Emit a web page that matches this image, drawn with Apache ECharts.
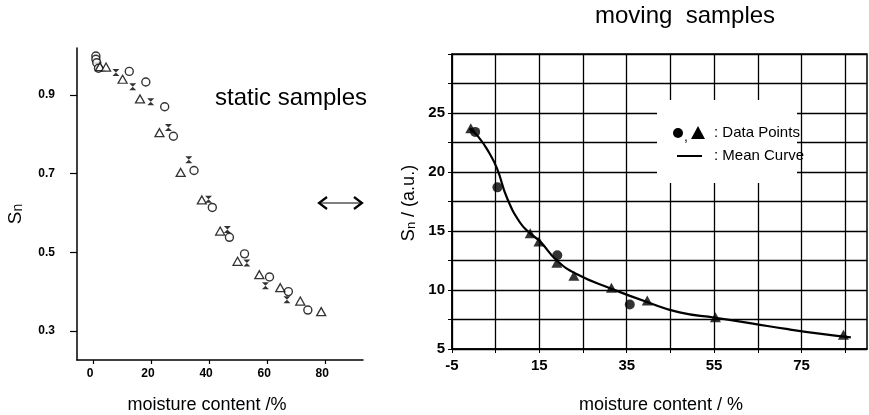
<!DOCTYPE html>
<html>
<head>
<meta charset="utf-8">
<script src="https://cdn.jsdelivr.net/npm/echarts@6/dist/echarts.min.js"></script>
<style>html,body{margin:0;padding:0;background:#fff;}#c{width:869px;height:415px;}</style>
</head>
<body>
<div id="c"></div>
<script>
// ---- Left chart: static samples ----
const staticCircles = [[1,0.999],[1,0.991],[1.3,0.982],[1.9,0.968],[12.5,0.96],[18.2,0.933],[24.7,0.87],[27.7,0.795],[34.8,0.708],[41.1,0.614],[47,0.538],[52.2,0.496],[60.8,0.437],[67.3,0.40],[74,0.353]];
const staticTriangles = [[2.4,0.972],[4.5,0.971],[10.2,0.94],[16.2,0.89],[22.9,0.804],[30.2,0.703],[37.5,0.633],[43.8,0.554],[49.8,0.477],[57.3,0.443],[64.5,0.41],[71.4,0.376],[78.6,0.349]];
const staticHourglass = [[7.9,0.957],[13.7,0.921],[19.9,0.883],[26,0.817],[33,0.735],[39.8,0.635],[46.3,0.558],[53,0.473],[59.4,0.415],[66.8,0.379]];
const leftXTicks = [0,20,40,60,80];
const leftYTicks = [0.3,0.5,0.7,0.9];

// ---- Right chart: moving samples ----
const movingCircles = [[0.3,23.4],[5.4,18.7],[19.1,12.95],[35.7,8.77]];
const movingTriangles = [[-0.7,23.7],[12.9,14.8],[14.9,14.1],[19,12.3],[22.9,11.2],[31.5,10.2],[39.7,9.1],[55.3,7.7],[84.6,6.2]];
const meanCurve = [[-1,23.7],[1,23.0],[3.4,21.7],[5.3,20.3],[7.6,17.8],[10.6,15.7],[12.9,14.8],[15.2,14.1],[19,12.5],[23.5,11.35],[31.5,10.1],[39.5,9.0],[47.1,8.1],[55.3,7.65],[63.9,7.15],[71.5,6.7],[79.1,6.3],[86.3,5.98]];
const rightXGrid = [-5,5,15,25,35,45,55,65,75,85];
const rightXLabels = [-5,15,35,55,75];
const rightYLabels = [5,10,15,20,25];

const FONT = 'Liberation Sans, Arial, sans-serif';
const chart = echarts.init(document.getElementById('c'), null, {renderer:'canvas'});

const hourglass = 'path://M0,0 L10,0 L0,10 L10,10 Z';

chart.setOption({
  backgroundColor:'#fff',
  animation:false,
  grid:[
    {left:77, top:48, width:286, height:312, show:false},
    {left:452, top:54, width:415, height:295, show:true, borderColor:'#000', borderWidth:1.5, backgroundColor:'transparent'}
  ],
  xAxis:[
    {gridIndex:0, type:'value', min:-5.5, max:93, 
     axisLine:{lineStyle:{color:'#000', width:1.5}, onZero:false},
     axisTick:{show:true, customValues:leftXTicks, length:4, inside:false, lineStyle:{color:'#000', width:1.2}},
     axisLabel:{customValues:leftXTicks, color:'#000', fontSize:12, fontWeight:'bold', fontFamily:FONT, margin:8, padding:[0,6,0,0]},
     splitLine:{show:false}},
    {gridIndex:1, type:'value', min:-5, max:90,
     axisLine:{lineStyle:{color:'#000', width:1.5}, onZero:false},
     axisTick:{show:true, customValues:rightXGrid, length:4, lineStyle:{color:'#000'}},
     axisLabel:{customValues:rightXLabels, color:'#000', fontSize:15, fontWeight:'bold', fontFamily:FONT, margin:9},
     splitLine:{show:true, lineStyle:{color:'#000', width:1.3}}}
  ],
  yAxis:[
    {gridIndex:0, type:'value', min:0.226, max:1.0195,
     axisLine:{show:true, lineStyle:{color:'#000', width:1.5}, onZero:false},
     axisTick:{show:true, customValues:leftYTicks, length:7, lineStyle:{color:'#000', width:1.2}},
     axisLabel:{customValues:leftYTicks, color:'#000', fontSize:12, fontWeight:'bold', fontFamily:FONT, margin:22, formatter:v=>v.toFixed(1)},
     splitLine:{show:false}},
    {gridIndex:1, type:'value', min:5, max:30, interval:2.5,
     axisLine:{show:true, lineStyle:{color:'#000', width:1.5}, onZero:false},
     axisTick:{show:true, length:4, lineStyle:{color:'#000'}},
     axisLabel:{color:'#000', fontSize:15, fontWeight:'bold', fontFamily:FONT, margin:7,
       formatter:v=> rightYLabels.indexOf(v) >= 0 ? String(v) : ''},
     splitLine:{show:true, lineStyle:{color:'#000', width:1.3}}}
  ],
  series:[
    {type:'scatter', xAxisIndex:0, yAxisIndex:0, data:staticCircles, symbol:'circle', symbolSize:8,
     itemStyle:{color:'#fff', borderColor:'#000', borderWidth:1.4}},
    {type:'scatter', xAxisIndex:0, yAxisIndex:0, data:staticTriangles, symbol:'triangle', symbolSize:[9,8],
     itemStyle:{color:'#fff', borderColor:'#000', borderWidth:1.3}},
    {type:'scatter', xAxisIndex:0, yAxisIndex:0, data:staticHourglass, symbol:hourglass, symbolSize:[7,7],
     itemStyle:{color:'#000'}},
    {type:'line', xAxisIndex:1, yAxisIndex:1, data:meanCurve, smooth:true, showSymbol:false, symbol:'none',
     lineStyle:{color:'#000', width:2.2}, z:3},
    {type:'scatter', xAxisIndex:1, yAxisIndex:1, data:movingCircles, symbol:'circle', symbolSize:10,
     itemStyle:{color:'#000'}, z:4},
    {type:'scatter', xAxisIndex:1, yAxisIndex:1, data:movingTriangles, symbol:'triangle', symbolSize:[11,10],
     itemStyle:{color:'#000'}, z:4}
  ],
  graphic:[
    // titles
    {type:'text', left:215, top:86, z:100, style:{text:'static samples', font:'24px Liberation Sans, Arial, sans-serif', fill:'#000'}},
    {type:'text', left:595, top:4, z:100, style:{text:'moving  samples', font:'24px Liberation Sans, Arial, sans-serif', fill:'#000'}},
    // axis names
    {type:'text', x:207, y:405, z:100, style:{text:'moisture content /%', font:'18px Liberation Sans, Arial, sans-serif', fill:'#000', align:'center', verticalAlign:'middle'}},
    {type:'text', x:661, y:405, z:100, style:{text:'moisture content / %', font:'18px Liberation Sans, Arial, sans-serif', fill:'#000', align:'center', verticalAlign:'middle'}},
    {type:'text', x:16, y:214, rotation:Math.PI/2, z:100, style:{
      text:'{s|S}{b|n}', align:'center', verticalAlign:'middle',
      rich:{s:{fontSize:19, fontFamily:FONT, fill:'#000', lineHeight:19, verticalAlign:'top'},
            b:{fontSize:14, fontFamily:FONT, fill:'#000', lineHeight:14, padding:[9,0,0,0], verticalAlign:'bottom'}}}},
    {type:'text', x:409, y:203, rotation:Math.PI/2, z:100, style:{
      text:'{s|S}{b|n}{s| / (a.u.)}', align:'center', verticalAlign:'middle',
      rich:{s:{fontSize:18, fontFamily:FONT, fill:'#000', lineHeight:18, verticalAlign:'top'},
            b:{fontSize:13, fontFamily:FONT, fill:'#000', lineHeight:13, padding:[8,0,0,0], verticalAlign:'bottom'}}}},
    // double arrow
    {type:'polyline', z:100, shape:{points:[[319,203],[362,203]]}, style:{stroke:'#000', lineWidth:1.2, fill:null}},
    {type:'polyline', z:100, shape:{points:[[327,197],[319,203],[327,209]]}, style:{stroke:'#000', lineWidth:2.2, fill:null}},
    {type:'polyline', z:100, shape:{points:[[354,197],[362,203],[354,209]]}, style:{stroke:'#000', lineWidth:2.2, fill:null}},
    // legend box
    {type:'rect', z:100, shape:{x:657, y:100, width:140, height:83}, style:{fill:'#fff'}},
    {type:'circle', z:101, shape:{cx:678, cy:133, r:5}, style:{fill:'#000'}},
    {type:'text', z:101, x:684, y:137, style:{text:',', font:'14px Liberation Sans, Arial, sans-serif', fill:'#000', verticalAlign:'middle'}},
    {type:'polygon', z:101, shape:{points:[[698,126],[705,139],[691,139]]}, style:{fill:'#000'}},
    {type:'text', z:101, x:714, y:133, style:{text:': Data Points', font:'15px Liberation Sans, Arial, sans-serif', fill:'#000', verticalAlign:'middle'}},
    {type:'line', z:101, shape:{x1:677, y1:156, x2:702, y2:156}, style:{stroke:'#000', lineWidth:2}},
    {type:'text', z:101, x:714, y:156, style:{text:': Mean Curve', font:'15px Liberation Sans, Arial, sans-serif', fill:'#000', verticalAlign:'middle'}}
  ]
});
</script>
</body>
</html>
